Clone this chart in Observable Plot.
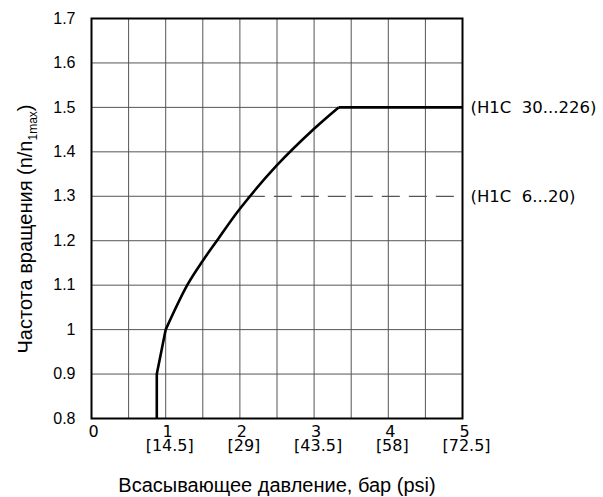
<!DOCTYPE html>
<html>
<head>
<meta charset="utf-8">
<script src="https://cdn.jsdelivr.net/npm/d3@7"></script>
<script src="https://cdn.jsdelivr.net/npm/@observablehq/plot@0.6"></script>
<style>
  html, body { margin: 0; padding: 0; background: #fff; }
  #chart svg { display: block; }
</style>
</head>
<body>
<div id="chart"></div>
<script>
// ---- data ----
const lowPressure = [0.88, 0.88, 1.0];
const lowSpeed    = [0.8, 0.9, 1.0];
const midPressure = [1.0, 1.29, 1.5, 1.69, 2.0, 2.5, 3.0, 3.33];
const midSpeed    = [1.0, 1.1, 1.155, 1.2, 1.272, 1.37, 1.452, 1.5];
const topPressure = [3.33, 5.0];
const topSpeed    = [1.5, 1.5];
const xTicks = [0, 1, 2, 3, 4, 5];
const xPsiTicks = [1, 2, 3, 4, 5];
const xPsiLabels = ["[14.5]", "[29]", "[43.5]", "[58]", "[72.5]"];
const yTicks = [0.8, 0.9, 1.0, 1.1, 1.2, 1.3, 1.4, 1.5, 1.6, 1.7];
const xGrid = [0.5, 1, 1.5, 2, 2.5, 3, 3.5, 4, 4.5];
const dashedLevel = 1.3;
const dashedStart = 2.1;
const annotLevels = [1.5, 1.3];
const annotLabels = ["(H1C\u00a0\u00a030...226)", "(H1C\u00a0\u00a06...20)"];
const xTitle = "Всасывающее давление, бар (psi)";
const yTitleMain = "Частота вращения (n/n";
const yTitleSub = "1max";
const yTitleEnd = ")";

const toPts = (xs, ys) => xs.map((x, i) => ({x, y: ys[i]}));
const lowSeg = toPts(lowPressure, lowSpeed);
const midSeg = toPts(midPressure, midSpeed);
const topSeg = toPts(topPressure, topSpeed);
const annots = annotLevels.map((y, i) => ({y, label: annotLabels[i]}));
const gridYVals = yTicks.filter(v => v > 0.8 && v < 1.7 && Math.abs(v - dashedLevel) > 1e-9);

const gridColor = "#555";
const lineStyle = {x: "x", y: "y", stroke: "#000", strokeWidth: 2.6, strokeLinejoin: "round", strokeLinecap: "butt"};

const plot = Plot.plot({
  width: 603,
  height: 497,
  marginLeft: 91,
  marginRight: 141,
  marginTop: 18,
  marginBottom: 79,
  x: {domain: [0, 5]},
  y: {domain: [0.8, 1.7]},
  style: {fontFamily: "Liberation Sans, Arial, sans-serif", color: "#000", background: "#fff"},
  marks: [
    Plot.gridX(xGrid, {stroke: gridColor, strokeOpacity: 1, strokeWidth: 1}),
    Plot.gridY(gridYVals, {stroke: gridColor, strokeOpacity: 1, strokeWidth: 1}),
    Plot.ruleY([dashedLevel], {x1: 0, x2: dashedStart, stroke: gridColor, strokeWidth: 1}),
    Plot.ruleY([dashedLevel], {x1: dashedStart, x2: 5, stroke: gridColor, strokeWidth: 1.2, strokeDasharray: "18,9"}),
    Plot.line(lowSeg, {...lineStyle}),
    Plot.line(midSeg, {...lineStyle, curve: "catmull-rom"}),
    Plot.line(topSeg, {...lineStyle}),
    Plot.frame({stroke: "#000", strokeWidth: 2}),
    Plot.axisY({
      ticks: yTicks, tickSize: 0, tickPadding: 16, fontSize: 16, label: null,
      fontFamily: "Liberation Sans, Arial, sans-serif",
      tickFormat: d => String(+d.toFixed(1))
    }),
    Plot.axisX({
      ticks: xTicks, tickSize: 0, tickPadding: 7, fontSize: 16, label: null, dx: 2,
      fontFamily: "DejaVu Sans, sans-serif",
      tickFormat: d => String(d)
    }),
    Plot.axisX({
      ticks: xPsiTicks, tickSize: 0, tickPadding: 21, fontSize: 16, label: null, dx: 4,
      fontFamily: "DejaVu Sans, sans-serif",
      tickFormat: d => xPsiLabels[xPsiTicks.indexOf(d)]
    }),
    Plot.text(annots, {
      x: () => 5, y: "y", text: "label", dx: 8, textAnchor: "start",
      fontSize: 16.5, fontFamily: "DejaVu Sans, sans-serif", fill: "#000"
    })
  ]
});

document.getElementById("chart").appendChild(plot);

const svg = d3.select(plot);
// x title
svg.append("text")
  .attr("x", 277).attr("y", 492)
  .attr("text-anchor", "middle")
  .style("font-size", "20px")
  .style("font-family", "Liberation Sans, Arial, sans-serif")
  .attr("fill", "#000")
  .text(xTitle);
// y title with subscript
const yt = svg.append("text")
  .attr("transform", "translate(32,229) rotate(-90)")
  .attr("text-anchor", "middle")
  .style("font-size", "20px")
  .style("font-family", "Liberation Sans, Arial, sans-serif")
  .attr("fill", "#000");
yt.append("tspan").text(yTitleMain);
yt.append("tspan").style("font-size", "12px").attr("dy", 5).text(yTitleSub);
yt.append("tspan").attr("dy", -5).text(yTitleEnd);
</script>
</body>
</html>
